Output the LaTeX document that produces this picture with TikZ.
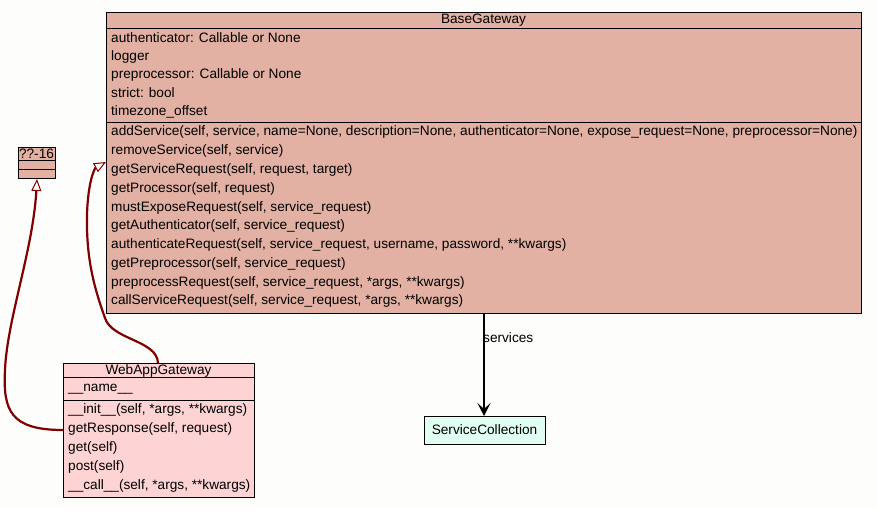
\documentclass[tikz,border=0pt]{standalone}
\usepackage{fontspec}
\setmainfont{Liberation Sans}
\usetikzlibrary{arrows.meta}
\definecolor{bgc}{HTML}{FDFDFB}
\definecolor{basec}{HTML}{E2B1A3}
\definecolor{webc}{HTML}{FDD3D4}
\definecolor{svcc}{HTML}{E0FFF0}
\definecolor{inhc}{HTML}{800000}
\tikzset{
  clsbox/.style={draw=black, line width=1pt, rectangle, inner sep=0pt, anchor=north west},
  txt/.style={inner sep=0pt, font=\fontsize{13.65}{15}\selectfont, anchor=west},
  ttl/.style={inner sep=0pt, font=\fontsize{13.65}{15}\selectfont},
  sep/.style={line width=1pt},
  inh/.style={draw=inhc, line width=2.2pt, -{Triangle[length=12pt, width=10pt, fill=white, line width=1pt]}},
  assoc/.style={draw=black, line width=1.2pt, -{Stealth[length=13pt, width=13pt, inset=6pt]}}
}
\begin{document}
\begin{tikzpicture}[x=1pt, y=-1pt]
\fill[bgc] (0,0) rectangle (877,509);
\useasboundingbox (0,0) rectangle (877,509);

% BaseGateway
\node[clsbox, fill=basec, minimum width=755pt, minimum height=301pt] (base) at (106,12) {};
\node[ttl] (baseT) at (483.5,20) {BaseGateway};
\draw[sep] (106,28) -- (861,28);
\node[txt] (b1) at (111,37.5) {authenticator: Callable or None};
\node[txt] (b2) at (111,56.5) {logger};
\node[txt] (b3) at (111,74.5) {preprocessor: Callable or None};
\node[txt] (b4) at (111,92.5) {strict: bool};
\node[txt] (b5) at (111,111.5) {timezone\_offset};
\draw[sep] (106,122) -- (861,122);
\node[txt] (m1) at (111,131.5) {addService(self, service, name=None, description=None, authenticator=None, expose\_request=None, preprocessor=None)};
\node[txt] (m2) at (111,150.5) {removeService(self, service)};
\node[txt] (m3) at (111,169.5) {getServiceRequest(self, request, target)};
\node[txt] (m4) at (111,188.5) {getProcessor(self, request)};
\node[txt] (m5) at (111,207.5) {mustExposeRequest(self, service\_request)};
\node[txt] (m6) at (111,225.5) {getAuthenticator(self, service\_request)};
\node[txt] (m7) at (111,244.5) {authenticateRequest(self, service\_request, username, password, **kwargs)};
\node[txt] (m8) at (111,263.5) {getPreprocessor(self, service\_request)};
\node[txt] (m9) at (111,282.5) {preprocessRequest(self, service\_request, *args, **kwargs)};
\node[txt] (m10) at (111,300.5) {callServiceRequest(self, service\_request, *args, **kwargs)};

% ??-16
\node[clsbox, fill=basec, minimum width=37pt, minimum height=31pt] (q) at (18,147) {};
\node[ttl] (qT) at (36.5,154) {??-16};
\draw[sep] (18,160) -- (55,160);
\draw[sep] (18,169) -- (55,169);

% WebAppGateway
\node[clsbox, fill=webc, minimum width=191pt, minimum height=134pt] (web) at (63,363) {};
\node[ttl] (webT) at (158.5,370.5) {WebAppGateway};
\draw[sep] (63,377) -- (254,377);
\node[txt] (w1) at (68,389.5) {\_\_name\_\_};
\draw[sep] (63,400) -- (254,400);
\node[txt] (w2) at (68,409.5) {\_\_init\_\_(self, *args, **kwargs)};
\node[txt] (w3) at (68,428.5) {getResponse(self, request)};
\node[txt] (w4) at (68,447.5) {get(self)};
\node[txt] (w5) at (68,466.5) {post(self)};
\node[txt] (w6) at (68,485.5) {\_\_call\_\_(self, *args, **kwargs)};

% ServiceCollection
\node[clsbox, fill=svcc, minimum width=121pt, minimum height=28pt] (svc) at (424,416) {};
\node[ttl] (svcT) at (484.5,430) {ServiceCollection};

% connectors
\coordinate (webL) at (63,430);
\coordinate (webTop) at (158,363);
\coordinate (baseL) at (106,162);
\coordinate (baseB) at (484,313);
\coordinate (svcTop) at (484,416);
\draw[inh] (webL) .. controls (10,430) and (3,410) .. (5,370) .. controls (7,320) and (33,250) .. (q.south);
\draw[inh] (webTop) .. controls (157,340) and (112,340) .. (105,318) .. controls (95,290) and (86,260) .. (87,215) .. controls (88,180) and (95,168) .. (baseL);
\draw[assoc] (baseB) -- (svcTop);
\node[txt] (lbl) at (483,338) {services};
\end{tikzpicture}
\end{document}
